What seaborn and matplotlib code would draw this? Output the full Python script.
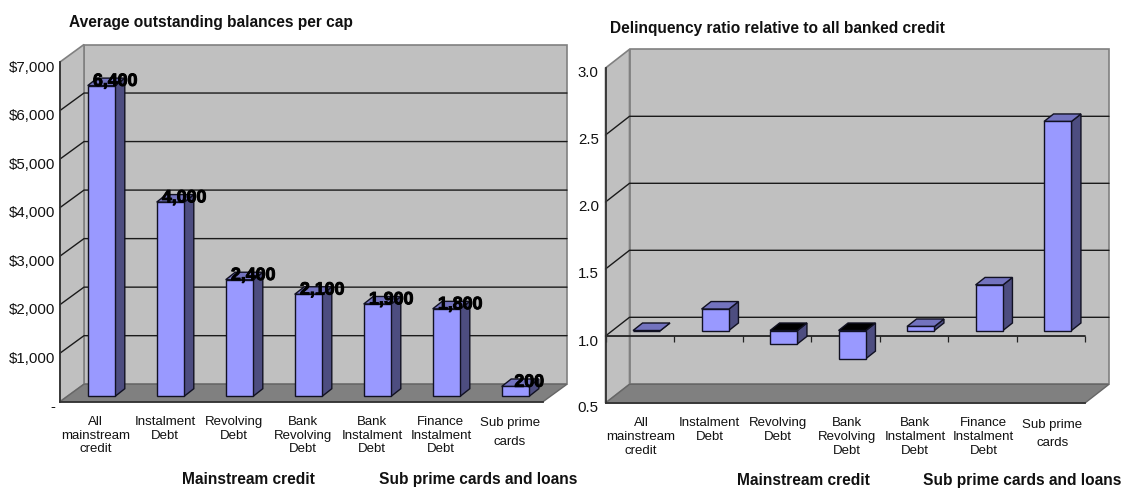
"""Two fake-3D bar panels: balances per cap and delinquency ratio."""

import matplotlib
matplotlib.use("Agg")
import matplotlib.patheffects as pe
import matplotlib.pyplot as plt
import pandas as pd
import seaborn as sns
from matplotlib.patches import Polygon
from matplotlib.transforms import Affine2D, IdentityTransform

W, H = 1125, 489

CATEGORIES = [
    "All\nmainstream\ncredit",
    "Instalment\nDebt",
    "Revolving\nDebt",
    "Bank\nRevolving\nDebt",
    "Bank\nInstalment\nDebt",
    "Finance\nInstalment\nDebt",
    "Sub prime\ncards",
]
BALANCES = [6400, 4000, 2400, 2100, 1900, 1800, 200]
BALANCE_TICKS = [0, 1000, 2000, 3000, 4000, 5000, 6000, 7000]
BALANCE_TICK_LABELS = ["-", "$1,000", "$2,000", "$3,000", "$4,000", "$5,000", "$6,000", "$7,000"]
RATIOS = [1.0, 1.16, 0.90, 0.79, 1.03, 1.34, 2.56]
RATIO_TICKS = [0.5, 1.0, 1.5, 2.0, 2.5, 3.0]
RATIO_TICK_LABELS = ["0.5", "1.0", "1.5", "2.0", "2.5", "3.0"]

WALL = "#C0C0C0"
FLOOR = "#808080"
BAR_FRONT = "#9999FF"
BAR_SIDE = "#4D4D80"
BAR_TOP = "#7373BF"


def draw_panel(ax, values, base, ylim, ticks, tick_labels, depth_y, tick_len):
    depth_x = 24
    bar_x, bar_y = 7, 5.5
    side_x, side_y = 9.5, 7.5

    df = pd.DataFrame({"category": CATEGORIES, "height": [v - base for v in values]})
    sns.barplot(
        data=df, x="category", y="height", ax=ax, color=BAR_FRONT, saturation=1,
        width=0.4, bottom=base, edgecolor="#111122", linewidth=1.0, zorder=5,
    )
    ax.set_xlim(-0.5, 6.5)
    ax.set_ylim(*ylim)
    ax.set_xlabel("")
    ax.set_ylabel("")

    # walls, floor and grid, in pixels from the axes scales
    x0, x1 = -0.5, 6.5
    y0, y1 = ylim
    to_px = ax.transData.transform
    pixels = IdentityTransform()
    left, low = to_px((x0, y0))
    right, high = to_px((x1, y1))
    ax.add_patch(Polygon([(left + depth_x, low + depth_y), (right + depth_x, low + depth_y),
                          (right + depth_x, high + depth_y), (left + depth_x, high + depth_y)],
                         transform=pixels, fc=WALL, ec="#808080", lw=1.2, zorder=1, clip_on=False))
    ax.add_patch(Polygon([(left, low), (left + depth_x, low + depth_y),
                          (left + depth_x, high + depth_y), (left, high)],
                         transform=pixels, fc=WALL, ec="#808080", lw=1.2, zorder=1, clip_on=False))
    ax.add_patch(Polygon([(left, low), (right, low), (right + depth_x, low + depth_y),
                          (left + depth_x, low + depth_y)],
                         transform=pixels, fc=FLOOR, ec="#666666", lw=1.0, zorder=2, clip_on=False))
    for t in ticks[1:-1]:
        yp = to_px((x0, t))[1]
        ax.plot([left, left + depth_x, right + depth_x], [yp, yp + depth_y, yp + depth_y],
                transform=pixels, color="#1a1a1a", lw=1.0, zorder=3, clip_on=False)

    # bars: move the front faces into depth, then add side and top faces
    move = ax.transData + Affine2D().translate(bar_x, bar_y)
    for patch in ax.containers[0]:
        patch.set_transform(move)
        patch.set_clip_on(False)
        ys = sorted([patch.get_y(), patch.get_y() + patch.get_height()])
        lx, ly = to_px((patch.get_x(), ys[0]))
        rx, hy = to_px((patch.get_x() + patch.get_width(), ys[1]))
        lx, rx, ly, hy = lx + bar_x, rx + bar_x, ly + bar_y, hy + bar_y
        ax.add_patch(Polygon([(rx, ly), (rx + side_x, ly + side_y), (rx + side_x, hy + side_y), (rx, hy)],
                             transform=pixels, fc=BAR_SIDE, ec="#111122", lw=1.0, zorder=4, clip_on=False))
        # bars going below the base show a black top
        top = "black" if patch.get_height() < 0 else BAR_TOP
        ax.add_patch(Polygon([(lx, hy), (rx, hy), (rx + side_x, hy + side_y), (lx + side_x, hy + side_y)],
                             transform=pixels, fc=top, ec="#111122", lw=1.0, zorder=4, clip_on=False))

    # axes
    sns.despine(ax=ax, top=True, right=True)
    for side in ("left", "bottom"):
        ax.spines[side].set_color("#333333")
        ax.spines[side].set_linewidth(1.3)
        ax.spines[side].set_zorder(6)
    ax.set_yticks(ticks, tick_labels)
    ax.tick_params(axis="y", length=tick_len, width=0.9, color="#111111", pad=1.2,
                   labelsize=10.8, labelcolor="#111111")
    down = Affine2D().translate(0, -3)
    for label in ax.get_yticklabels():
        label.set_transform(label.get_transform() + down)
    ax.set_xticks([i - 0.5 for i in range(8)], [""] * 8)
    ax.tick_params(axis="x", length=4, width=0.9, color="#111111")
    ax.patch.set_visible(False)
    for i, name in enumerate(CATEGORIES):
        is_sub = name.startswith("Sub")
        ax.annotate(name, (i, y0), xytext=(1, -10.5 if is_sub else -9.5), textcoords="offset points",
                    ha="center", va="top", fontsize=9.5, linespacing=1.72 if is_sub else 1.2,
                    color="#111111", annotation_clip=False)


sns.set_style("white")
plt.rcParams["font.family"] = ["Liberation Sans", "DejaVu Sans"]

fig = plt.figure(figsize=(W / 100, H / 100), dpi=100, facecolor="white")


def px_axes(left, right, top, bottom):
    return fig.add_axes([left / W, 1 - bottom / H, (right - left) / W, (bottom - top) / H])


ax_left = px_axes(60, 543, 63, 402.7)
ax_right = px_axes(605.5, 1085, 69, 404)

draw_panel(ax_left, BALANCES, 0, (0, 7000), BALANCE_TICKS, BALANCE_TICK_LABELS, 17.5, 2.5)
draw_panel(ax_right, RATIOS, 1.0, (0.5, 3.0), RATIO_TICKS, RATIO_TICK_LABELS, 18.7, 3.6)

# on the ratio panel the floor ticks stop before the last two categories
for tick in ax_right.xaxis.get_major_ticks()[6:]:
    tick.tick1line.set_visible(False)

for i, v in enumerate(BALANCES):
    ax_left.annotate(f"{v:,}", (i, v), xytext=(15, 7), textcoords="offset points", ha="center", va="center",
                     fontsize=12.8, fontweight="bold", color="black", zorder=8, annotation_clip=False,
                     path_effects=[pe.withStroke(linewidth=0.7, foreground="black")])

# the ratio panel also has an axis line at 1.0
ax_right.plot([-0.5, 6.5], [1.0, 1.0], color="#222222", lw=1.3, zorder=3, clip_on=False)
ax_right.plot([i - 0.5 for i in range(8)], [1.0] * 8, ls="none", marker=3, ms=4, mew=0.9,
              color="#222222", zorder=3, clip_on=False)

for x, y, text in [
    (69, 23, "Average outstanding balances per cap"),
    (610, 28, "Delinquency ratio relative to all banked credit"),
    (182, 480, "Mainstream credit"),
    (379, 480, "Sub prime cards and loans"),
    (737, 481, "Mainstream credit"),
    (923, 481, "Sub prime cards and loans"),
]:
    fig.text(x / W, 1 - y / H, text, fontweight="bold", fontsize=11.2, color="#111111", va="center", ha="left")

fig.savefig("out.png", dpi=100)
